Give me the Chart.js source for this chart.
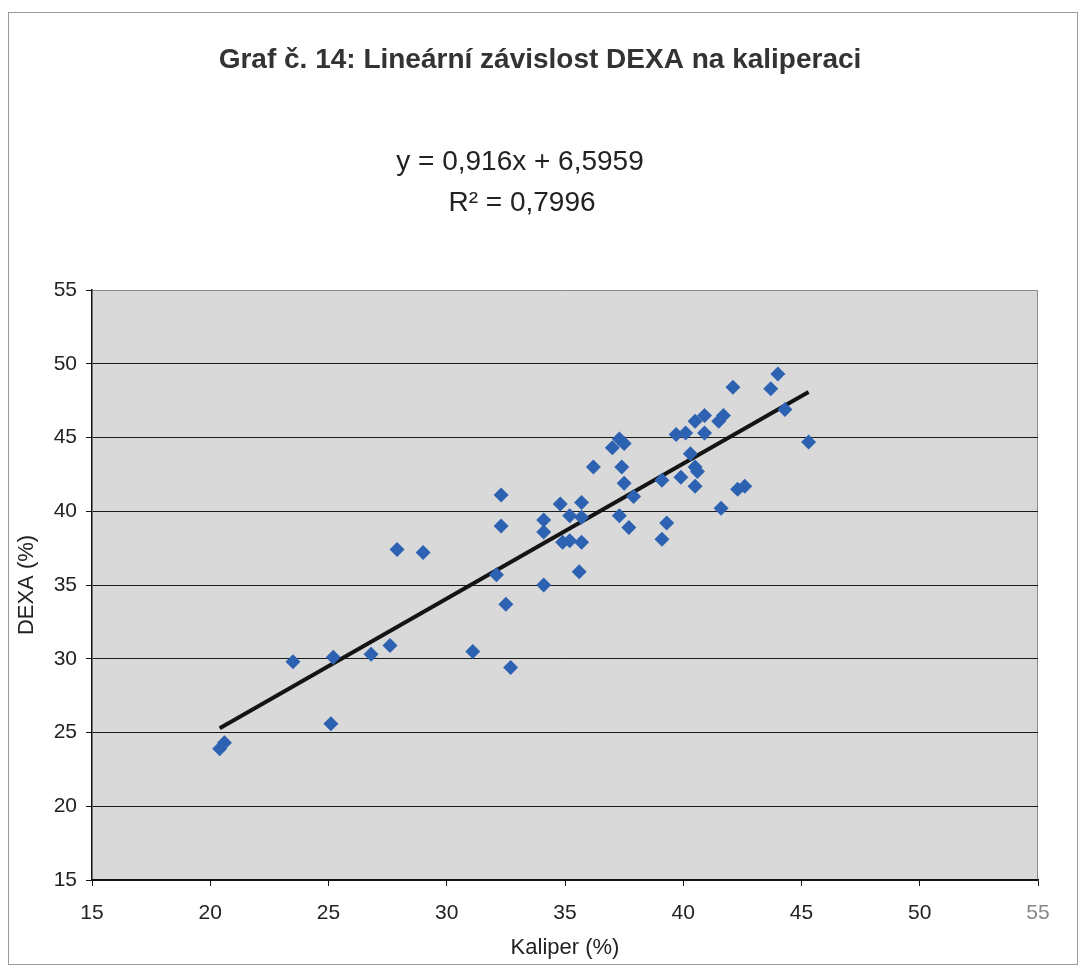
<!DOCTYPE html>
<html lang="cs">
<head>
  <meta charset="UTF-8">
  <title>Graf č. 14</title>
  <script src="https://cdn.jsdelivr.net/npm/chart.js"></script>
  <style>
    body {
      margin: 0;
      background: #fff;
    }
    #wrap {
      width: 1078px;
      height: 967px;
      position: relative;
    }
  </style>
</head>
<body>
  <div id="wrap"><canvas id="chart"></canvas></div>

  <script>
    // kaliper (%) na ose x, DEXA (%) na ose y
    const kaliper = [20.4, 20.6, 23.5, 25.1, 25.2, 26.8, 27.6, 27.9, 29.0, 31.1,
                     32.1, 32.3, 32.3, 32.5, 32.7, 34.1, 34.1, 34.1, 34.8, 34.9,
                     35.2, 35.2, 35.6, 35.7, 35.7, 35.7, 36.2, 37.0, 37.3, 37.5,
                     37.3, 37.4, 37.5, 37.7, 37.9, 39.1, 39.1, 39.3, 39.7, 39.9,
                     40.1, 40.3, 40.5, 40.5, 40.6, 40.5, 40.9, 40.9, 41.5, 41.7,
                     41.6, 42.1, 42.3, 42.6, 43.7, 44.0, 44.3, 45.3];
    const dexa = [23.9, 24.3, 29.8, 25.6, 30.1, 30.3, 30.9, 37.4, 37.2, 30.5,
                  35.7, 39.0, 41.1, 33.7, 29.4, 35.0, 38.6, 39.4, 40.5, 37.9,
                  38.0, 39.7, 35.9, 37.9, 39.6, 40.6, 43.0, 44.3, 44.9, 44.6,
                  39.7, 43.0, 41.9, 38.9, 41.0, 38.1, 42.1, 39.2, 45.2, 42.3,
                  45.3, 43.9, 41.7, 43.0, 42.7, 46.1, 45.3, 46.5, 46.1, 46.5,
                  40.2, 48.4, 41.5, 41.7, 48.3, 49.3, 46.9, 44.7];

    // lineární trend z grafu
    const slope = 0.916;
    const intercept = 6.5959;
    const titleText = "Graf č. 14: Lineární závislost DEXA na kaliperaci";
    const eqLines = ["y = 0,916x + 6,5959", "R² = 0,7996"];

    const axisMin = 15;
    const axisMax = 55;
    const axisStep = 5;

    const points = kaliper.map((x, i) => ({ x: x, y: dexa[i] }));
    const xLo = Math.min(...kaliper);
    const xHi = Math.max(...kaliper);
    const trend = [
      { x: xLo, y: slope * xLo + intercept },
      { x: xHi, y: slope * xHi + intercept }
    ];

    const FONT = '"Liberation Sans", Arial, sans-serif';

    // pozadí, rámeček a texty (nadpis + rovnice trendu)
    const frame = {
      id: 'frame',
      beforeDraw(chart) {
        const { ctx, chartArea: a } = chart;
        ctx.save();
        ctx.strokeStyle = '#9a9a9a';
        ctx.lineWidth = 1;
        ctx.strokeRect(8.5, 12.5, chart.width - 9, chart.height - 15);
        ctx.fillStyle = '#d9d9d9';
        ctx.fillRect(a.left, a.top, a.right - a.left, a.bottom - a.top);
        ctx.strokeStyle = '#8c8c8c';
        ctx.beginPath();
        ctx.moveTo(a.left, a.top + 0.5);
        ctx.lineTo(a.right - 0.5, a.top + 0.5);
        ctx.lineTo(a.right - 0.5, a.bottom);
        ctx.stroke();
        ctx.restore();
      },
      afterDraw(chart) {
        const ctx = chart.ctx;
        ctx.save();
        ctx.textAlign = 'center';
        ctx.textBaseline = 'middle';
        ctx.fillStyle = '#333';
        ctx.font = 'bold 28px ' + FONT;
        ctx.fillText(titleText, 540, 60);
        ctx.fillStyle = '#222';
        ctx.font = '28px ' + FONT;
        ctx.fillText(eqLines[0], 520, 162);
        ctx.fillText(eqLines[1], 522, 203);
        ctx.restore();
      }
    };

    new Chart(document.getElementById('chart'), {
      type: 'scatter',
      data: {
        datasets: [
          {
            label: 'DEXA',
            data: points,
            pointStyle: 'rectRot',
            pointRadius: 7.5,
            pointHoverRadius: 7.5,
            backgroundColor: '#2d62b2',
            borderColor: '#2d62b2',
            borderWidth: 0
          },
          {
            label: 'Lineární trend',
            data: trend,
            showLine: true,
            pointRadius: 0,
            borderColor: '#141414',
            borderWidth: 4
          }
        ]
      },
      options: {
        responsive: true,
        maintainAspectRatio: false,
        animation: false,
        layout: {
          padding: { left: 8, right: 40, top: 290, bottom: 0 }
        },
        plugins: {
          legend: { display: false },
          tooltip: { enabled: false },
          title: { display: false }
        },
        scales: {
          x: {
            type: 'linear',
            min: axisMin,
            max: axisMax,
            afterFit: s => { s.height = 87; },
            ticks: {
              stepSize: axisStep,
              color: (c) => c.tick.value === axisMax ? '#888' : '#222',
              font: { family: FONT, size: 21 },
              padding: 15,
              maxRotation: 0
            },
            grid: {
              drawOnChartArea: false,
              drawTicks: true,
              tickLength: 6,
              color: '#111'
            },
            border: { display: true, color: '#111', width: 1.5 },
            title: {
              display: true,
              text: 'Kaliper (%)',
              color: '#222',
              font: { family: FONT, size: 22 },
              padding: { top: 4, bottom: 6 }
            }
          },
          y: {
            type: 'linear',
            min: axisMin,
            max: axisMax,
            afterFit: s => { s.width = 84; },
            ticks: {
              stepSize: axisStep,
              color: '#222',
              font: { family: FONT, size: 21 },
              padding: 9
            },
            grid: {
              color: (c) => c.tick.value === axisMax ? 'rgba(0,0,0,0)' : '#1a1a1a',
              tickColor: '#111',
              tickLength: 6,
              lineWidth: 1
            },
            border: { display: true, color: '#111', width: 1.5 },
            title: {
              display: true,
              text: 'DEXA (%)',
              color: '#222',
              font: { family: FONT, size: 22 },
              padding: { top: 6, bottom: 4 }
            }
          }
        }
      },
      plugins: [frame]
    });
  </script>
</body>
</html>
